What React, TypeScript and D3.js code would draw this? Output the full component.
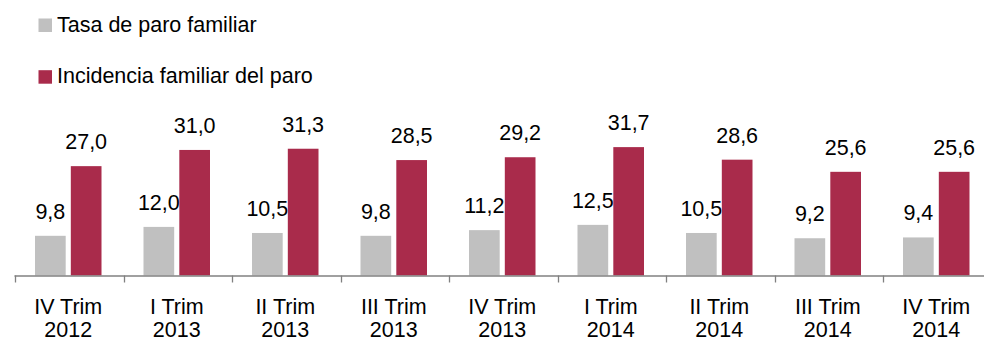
import React from "react";
import * as d3 from "d3";

const categories = [
  ["IV Trim", "2012"],
  ["I Trim", "2013"],
  ["II Trim", "2013"],
  ["III Trim", "2013"],
  ["IV Trim", "2013"],
  ["I Trim", "2014"],
  ["II Trim", "2014"],
  ["III Trim", "2014"],
  ["IV Trim", "2014"],
];
const tasaParo = [9.8, 12.0, 10.5, 9.8, 11.2, 12.5, 10.5, 9.2, 9.4];
const incidencia = [27.0, 31.0, 31.3, 28.5, 29.2, 31.7, 28.6, 25.6, 25.6];
const seriesNames = ["Tasa de paro familiar", "Incidencia familiar del paro"];
const seriesColors = ["#C0C0C0", "#A92B4B"];

const W = 984;
const H = 342;
const FONT = "Liberation Sans, Arial, sans-serif";
const FS = 21.5;

export default function App() {
  const keys = categories.map((c) => c.join(" "));
  const x0 = d3
    .scaleBand<string>()
    .domain(keys)
    .range([15, 15 + 9 * 108.5])
    .paddingInner(0)
    .paddingOuter(0);
  const x1 = d3
    .scaleBand<string>()
    .domain(seriesNames)
    .range([20, 86.5])
    .paddingInner(0.143);
  const baseY = 275.5;
  const y = d3.scaleLinear().domain([0, 35]).range([baseY, baseY - 35 * 4.05]);
  const values = [tasaParo, incidencia];
  const fmt = (v: number) => v.toFixed(1).replace(".", ",");

  return (
    <svg
      width={W}
      height={H}
      style={{ position: "absolute", left: 0, top: 0, display: "block" }}
      fontFamily={FONT}
    >
      <rect x={0} y={0} width={W} height={H} fill="#fff" />
      {/* legend */}
      {seriesNames.map((s, i) => (
        <g key={s}>
          <rect x={38.5} y={18.5 + i * 51.7} width={13.5} height={13.5} fill={seriesColors[i]} />
          <text x={57} y={31.7 + i * 51.7} fontSize={FS} fill="#000">
            {s}
          </text>
        </g>
      ))}
      {/* bars */}
      {keys.map((k, ci) => (
        <g key={k} transform={`translate(${x0(k)},0)`}>
          {seriesNames.map((s, si) => {
            const v = values[si][ci];
            const bx = x1(s)!;
            const bw = x1.bandwidth();
            return (
              <g key={s}>
                <rect x={bx} y={y(v)} width={bw} height={baseY - y(v)} fill={seriesColors[si]} />
                <text
                  x={bx + bw / 2}
                  y={y(v) - 17}
                  fontSize={FS}
                  textAnchor="middle"
                  fill="#000"
                >
                  {fmt(v)}
                </text>
              </g>
            );
          })}
        </g>
      ))}
      {/* axis */}
      <line x1={14.5} x2={W} y1={baseY + 0.5} y2={baseY + 0.5} stroke="#808080" strokeWidth={1.3} />
      {keys.map((k) => (
        <line
          key={"t" + k}
          x1={Math.round(x0(k)!) + 0.5}
          x2={Math.round(x0(k)!) + 0.5}
          y1={baseY}
          y2={baseY + 7}
          stroke="#808080"
          strokeWidth={1.3}
        />
      ))}
      {keys.map((k, ci) => (
        <text
          key={"l" + k}
          x={x0(k)! + x0.bandwidth() / 2 - 1}
          textAnchor="middle"
          fontSize={FS}
          fill="#000"
        >
          <tspan x={x0(k)! + x0.bandwidth() / 2 - 1} y={313.5}>
            {categories[ci][0]}
          </tspan>
          <tspan x={x0(k)! + x0.bandwidth() / 2 - 1} y={337}>
            {categories[ci][1]}
          </tspan>
        </text>
      ))}
    </svg>
  );
}
